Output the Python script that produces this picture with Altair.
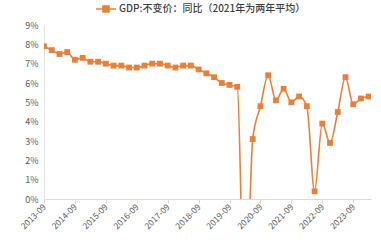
import altair as alt
import pandas as pd

quarters = [
    "2013-09", "2013-12",
    "2014-03", "2014-06", "2014-09", "2014-12",
    "2015-03", "2015-06", "2015-09", "2015-12",
    "2016-03", "2016-06", "2016-09", "2016-12",
    "2017-03", "2017-06", "2017-09", "2017-12",
    "2018-03", "2018-06", "2018-09", "2018-12",
    "2019-03", "2019-06", "2019-09", "2019-12",
    "2020-03", "2020-06", "2020-09", "2020-12",
    "2021-03", "2021-06", "2021-09", "2021-12",
    "2022-03", "2022-06", "2022-09", "2022-12",
    "2023-03", "2023-06", "2023-09", "2023-12",
    "2024-03",
]
gdp_yoy = [
    7.9, 7.7,
    7.5, 7.6, 7.2, 7.3,
    7.1, 7.1, 7.0, 6.9,
    6.9, 6.8, 6.8, 6.9,
    7.0, 7.0, 6.9, 6.8,
    6.9, 6.9, 6.7, 6.5,
    6.3, 6.0, 5.9, 5.8,
    -6.8, 3.1, 4.8, 6.4,
    5.1, 5.7, 5.0, 5.3,
    4.8, 0.4, 3.9, 2.9,
    4.5, 6.3, 4.9, 5.2,
    5.3,
]
tick_labels = ["2013-09", "2014-09", "2015-09", "2016-09", "2017-09", "2018-09",
               "2019-09", "2020-09", "2021-09", "2022-09", "2023-09"]
series_name = "GDP:不变价：同比（2021年为两年平均）"

df = pd.DataFrame({
    "i": list(range(len(quarters))),
    "quarter": quarters,
    "value": gdp_yoy,
    "series": [series_name] * len(quarters),
})

ORANGE = "#E8803A"
FONT = "Noto Sans CJK SC"
label_js = "[" + ",".join("'" + t + "'" for t in tick_labels) + "]"

x = alt.X("i:Q",
          scale=alt.Scale(domain=[0, 42.3], nice=False, zero=False),
          axis=alt.Axis(values=[4 * k for k in range(len(tick_labels))],
                        labelExpr=label_js + "[round(datum.value/4)]",
                        labelAngle=315, labelAlign="right", labelBaseline="middle",
                        labelFontSize=8.5, labelColor="#595959", labelFont=FONT,
                        labelPadding=2,
                        domainColor="#d9d9d9", tickColor="#d9d9d9", tickSize=4,
                        grid=False, title=None))
y = alt.Y("value:Q",
          scale=alt.Scale(domain=[0, 9], nice=False),
          axis=alt.Axis(values=list(range(10)), labelExpr="datum.value + '%'",
                        labelFontSize=9, labelColor="#595959", labelFont=FONT,
                        domainColor="#e3e3e3", ticks=False, labelPadding=6,
                        grid=False, title=None))
color = alt.Color("series:N",
                  scale=alt.Scale(range=[ORANGE]),
                  legend=alt.Legend(title=None, orient="none", legendX=51, legendY=-27,
                                    symbolType="M-1,0H1M-0.3,-0.3H0.3V0.3H-0.3Z",
                                    symbolSize=400, symbolStrokeWidth=1.6,
                                    symbolFillColor=ORANGE, symbolStrokeColor=ORANGE,
                                    labelFontSize=10, labelFont=FONT, labelColor="#404040",
                                    labelFontWeight=500, labelOffset=2, labelLimit=0))

line = alt.Chart(df).mark_line(clip=True, strokeWidth=1.6, interpolate="monotone").encode(
    x=x, y=y, color=color)
pts = alt.Chart(df).mark_point(clip=True, shape="square", filled=True, size=34, opacity=1).encode(
    x=x, y=y, color=alt.Color("series:N", scale=alt.Scale(range=[ORANGE]), legend=None))

chart = (line + pts).properties(
    width=327, height=174,
    autosize=alt.AutoSizeParams(type="none"),
    padding={"left": 44, "top": 25, "right": 10, "bottom": 41},
    background="white",
).configure_view(stroke=None)

chart.save("out.html", embed_options={"renderer": "svg", "actions": False})
